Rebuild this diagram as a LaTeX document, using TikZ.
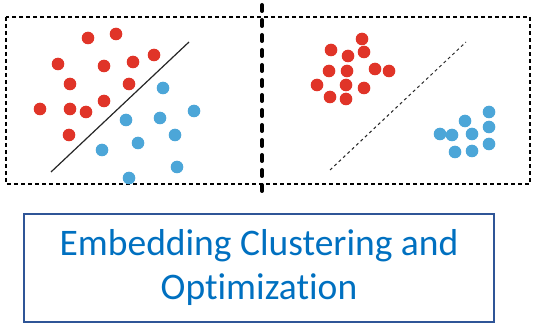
\documentclass[tikz,border=0pt]{standalone}
\usepackage{fontspec}
\setmainfont[Ligatures=NoCommon]{Carlito}
\definecolor{dotred}{RGB}{224,52,40}
\definecolor{dotblue}{RGB}{76,166,216}
\definecolor{titleblue}{RGB}{0,112,192}
\definecolor{frameblue}{RGB}{47,85,151}
\begin{document}
\begin{tikzpicture}[x=1pt,y=-1pt,
  reddot/.style={fill=dotred},
  bluedot/.style={fill=dotblue},
  panelframe/.style={draw=black,line width=2pt,dash pattern=on 4pt off 3pt},
  divider/.style={draw=black,line width=4pt,line cap=round,dash pattern=on 6pt off 9pt},
  titlebox/.style={draw=frameblue,line width=1.5pt,inner sep=0pt,
    minimum width=470pt,minimum height=108pt,text=titleblue,align=center,
    font=\fontsize{37.5pt}{44pt}\selectfont}]
\useasboundingbox (0,0) rectangle (533,323);

% dashed frame around both panels
\draw[panelframe] (6,17) rectangle (530,184);
% thick divider between the panels
\draw[divider] (262,5) -- (262,191);

% left panel: overlapping clusters with a solid separator
\foreach \p in {(88,38),(116,34),(58,64),(104,66),(133,62),(154,55),
                (70,84),(129,84),(40,109),(70,109),(86,112),(104,101),(69,135)}
  \fill[reddot] \p circle (6.3);
\foreach \p in {(163,88),(194,111),(126,120),(160,118),(175,135),
                (138,143),(102,150),(177,167),(129,178)}
  \fill[bluedot] \p circle (6.3);
\coordinate (s1) at (51,172);
\coordinate (s2) at (189,42);
\draw[line width=1.2pt,black!85] (s1) -- (s2);

% right panel: separated clusters with a dashed separator
\foreach \p in {(362,39),(331,50),(348,56),(364,52),(329,71),(347,71),
                (375,69),(389,71),(317,85),(346,85),(364,88),(330,97),(346,99)}
  \fill[reddot] \p circle (6.3);
\foreach \p in {(489,112),(465,121),(489,127),(440,134),(452,135),
                (472,134),(489,144),(455,152),(472,151)}
  \fill[bluedot] \p circle (6.3);
\coordinate (d1) at (330,170);
\coordinate (d2) at (466,42);
\draw[line width=1pt,black!85,dash pattern=on 3pt off 3pt] (d1) -- (d2);

% caption box
\node[titlebox] (title) at (259,268) {Embedding Clustering and\\Optimization};
\end{tikzpicture}
\end{document}
